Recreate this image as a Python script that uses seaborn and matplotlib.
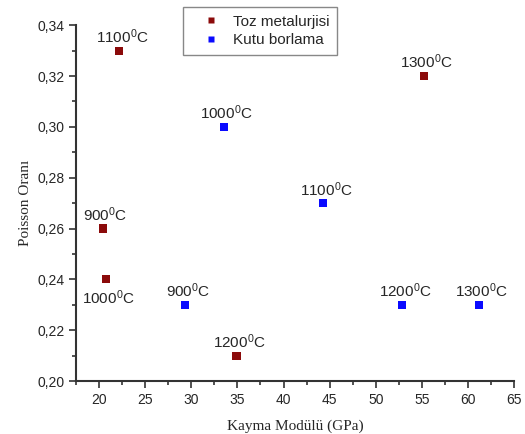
import numpy as np
import pandas as pd
import seaborn as sns
import matplotlib.pyplot as plt
from matplotlib.ticker import MultipleLocator

# Values
toz_x = [22.2, 55.2, 20.4, 20.7, 34.9]
toz_y = [0.33, 0.32, 0.26, 0.24, 0.21]
toz_temp = ["1100", "1300", "900", "1000", "1200"]

kutu_x = [33.5, 44.3, 29.3, 52.9, 61.2]
kutu_y = [0.30, 0.27, 0.23, 0.23, 0.23]
kutu_temp = ["1000", "1100", "900", "1200", "1300"]

series_names = ["Toz metalurjisi", "Kutu borlama"]

df = pd.DataFrame({
    "x": toz_x + kutu_x,
    "y": toz_y + kutu_y,
    "temp": toz_temp + kutu_temp,
    "group": [series_names[0]] * len(toz_x) + [series_names[1]] * len(kutu_x),
})

sns.set_style("ticks")
plt.rcParams["font.family"] = ["Liberation Sans", "DejaVu Sans"]
plt.rcParams["mathtext.fontset"] = "custom"
plt.rcParams["mathtext.rm"] = "Liberation Sans"
plt.rcParams["mathtext.it"] = "Liberation Sans"

fig = plt.figure(figsize=(5.25, 4.34), dpi=100)
ax = fig.add_axes([0.145, 0.122, 0.834, 0.82])

sns.scatterplot(data=df, x="x", y="y", hue="group", marker="s", s=34,
                palette=["#8b0a0a", "#0a0aff"], edgecolor="none", ax=ax)

# temperature labels: Toz 1000 below the point, everything else above
for i, row in df.iterrows():
    below = row["group"] == series_names[0] and row["temp"] == "1000"
    dy = -13 if below else 10
    ax.annotate(row["temp"] + r"$^{0}$C", (row["x"], row["y"]),
                xytext=(2, dy), textcoords="offset points",
                ha="center", va="center", fontsize=11)

ax.set_xlim(17.5, 65)
ax.set_ylim(0.20, 0.34)
ax.xaxis.set_minor_locator(MultipleLocator(2.5))
ax.yaxis.set_minor_locator(MultipleLocator(0.01))
ax.set_xticks(np.arange(20, 66, 5))
ax.set_yticks(np.arange(0.20, 0.3401, 0.02))
ax.set_yticklabels([f"{v:.2f}".replace(".", ",") for v in np.arange(0.20, 0.3401, 0.02)])
ax.tick_params(which="major", length=5, width=1.2, labelsize=10, color="#333333")
ax.tick_params(which="minor", length=3, width=1.2, color="#333333")
sns.despine(ax=ax)
for sp in ["left", "bottom"]:
    ax.spines[sp].set_linewidth(1.5)
    ax.spines[sp].set_color("#333333")

ax.set_xlabel("Kayma Modülü (GPa)", family="Liberation Serif", fontsize=11, labelpad=9)
ax.set_ylabel("Poisson Oranı", family="Liberation Serif", fontsize=11)

ax.legend(title=None, loc="upper left", bbox_to_anchor=(183 / 525, 1 - 7 / 434),
          bbox_transform=fig.transFigure, borderaxespad=0, fancybox=False,
          edgecolor="#888888", framealpha=1, fontsize=11, markerscale=0.85,
          handletextpad=0.15, handlelength=2.6, borderpad=0.5, labelspacing=0.3)

fig.savefig("out.png", dpi=100)
